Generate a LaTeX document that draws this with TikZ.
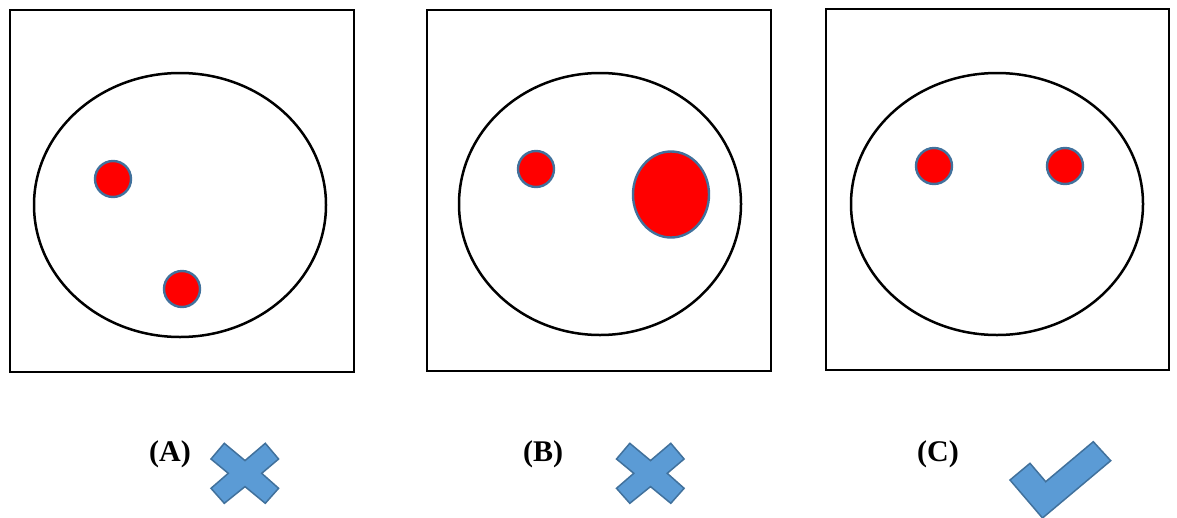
\documentclass[tikz,border=0pt]{standalone}
\usepackage{fontspec}
\setmainfont{Liberation Serif}
\definecolor{dotred}{HTML}{FF0000}
\definecolor{dotedge}{HTML}{41719C}
\definecolor{markfill}{HTML}{5B9BD5}
\begin{document}
\begin{tikzpicture}[x=1pt,y=-1pt,
  frame/.style={draw=black,line width=2.6pt},
  face/.style={draw=black,line width=2.5pt},
  dot/.style={fill=dotred,draw=dotedge,line width=2.4pt},
  markshape/.style={fill=markfill,draw=dotedge,line width=1.5pt,line join=miter},
  caption/.style={font=\fontsize{30}{34}\selectfont\bfseries,inner sep=0pt}]
\useasboundingbox (0,0) rectangle (1177,517);
\clip (0,0) rectangle (1177,517);
% panel A
\draw[frame] (10,10) rectangle (354,372);
\draw[face] (180,205) ellipse [x radius=146, y radius=132];
\draw[dot] (113,179) circle [radius=18];
\draw[dot] (182,289) circle [radius=18];
% panel B
\draw[frame] (427,10) rectangle (771,371);
\draw[face] (600,204) ellipse [x radius=141, y radius=131];
\draw[dot] (536,169) circle [radius=18];
\draw[dot] (671,194.5) ellipse [x radius=38, y radius=43];
% panel C
\draw[frame] (826,9) rectangle (1169,370);
\draw[face] (997,204) ellipse [x radius=146, y radius=131];
\draw[dot] (934,166) circle [radius=18];
\draw[dot] (1065,166) circle [radius=18];
% captions
\node[caption] (capA) at (170,454) {(A)};
\node[caption] (capB) at (543,454) {(B)};
\node[caption] (capC) at (938,454) {(C)};
% crosses
\foreach \cx/\cy in {245/473.3, 650.5/473.3}{
  \draw[markshape] (\cx-34,\cy-14.3) -- (\cx-20.7,\cy-30) -- (\cx,\cy-12.7)
    -- (\cx+20.3,\cy-30) -- (\cx+33.6,\cy-14.3) -- (\cx+16.7,\cy)
    -- (\cx+33.6,\cy+15) -- (\cx+20.3,\cy+30) -- (\cx,\cy+13.3)
    -- (\cx-20.7,\cy+30) -- (\cx-34,\cy+15) -- (\cx-16.7,\cy) -- cycle;
}
% check mark
\draw[markshape] (1010,480) -- (1030,463.3) -- (1045.7,481.7) -- (1093.3,441.7)
  -- (1110.7,460.7) -- (1042.5,518) -- cycle;
\end{tikzpicture}
\end{document}
